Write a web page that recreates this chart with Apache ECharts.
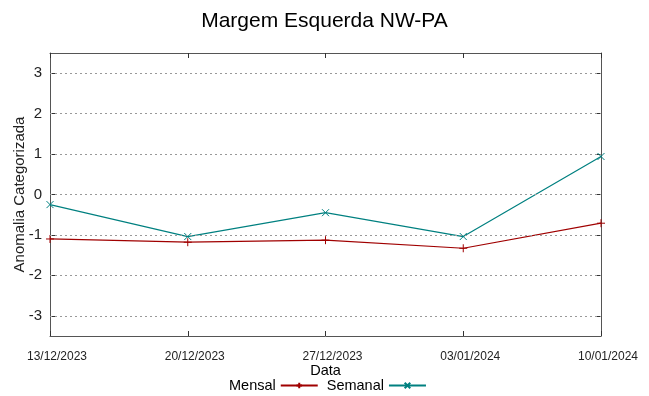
<!DOCTYPE html>
<html>
<head>
<meta charset="utf-8">
<script src="https://cdn.jsdelivr.net/npm/echarts@6/dist/echarts.min.js"></script>
<style>html,body{margin:0;padding:0;background:#fff}#c{width:649px;height:396px}</style>
</head>
<body>
<div id="c"></div>
<script>
const categories = ['13/12/2023', '20/12/2023', '27/12/2023', '03/01/2024', '10/01/2024'];
const mensal = [-1.10, -1.18, -1.13, -1.33, -0.71];
const semanal = [-0.25, -1.04, -0.45, -1.04, 0.94];
const yTicks = [-3, -2, -1, 0, 1, 2, 3];
const yMin = -3.5, yMax = 3.5;

const chart = echarts.init(document.getElementById('c'), null, {renderer: 'canvas'});
const frame = {show: true, onZero: false, lineStyle: {color: '#555', width: 1}};
const regular = '"Liberation Sans", Arial, sans-serif';

chart.setOption({
  animation: false,
  backgroundColor: '#fff',
  title: {
    text: 'Margem Esquerda NW-PA', left: 'center', top: 6,
    textStyle: {fontFamily: regular, fontSize: 21, fontWeight: 'normal', color: '#000'}
  },
  legend: {
    data: ['Mensal', 'Semanal'], align: 'right', left: 224, top: 373,
    itemWidth: 37, itemHeight: 7, itemGap: 8,
    textStyle: {fontFamily: regular, fontSize: 14.5, color: '#000'}
  },
  grid: {left: 50, right: 48, top: 53, bottom: 60, containLabel: false, outerBoundsMode: 'none'},
  xAxis: [{
    type: 'category', data: categories, boundaryGap: false, position: 'bottom',
    name: 'Data', nameLocation: 'middle', nameGap: 27, nameMoveOverlap: false,
    nameTextStyle: {fontFamily: regular, fontSize: 14.5, color: '#000'},
    axisLine: frame,
    axisTick: {show: true, inside: true, length: 5, interval: 0, lineStyle: {color: '#333'}},
    axisLabel: {interval: 0, margin: 15, fontFamily: regular, fontSize: 12, color: '#222', padding: [0, 0, 0, 14]},
    splitLine: {show: false}
  }, {
    type: 'category', data: categories, boundaryGap: false, position: 'top',
    axisLine: frame,
    axisTick: {show: true, inside: true, length: 5, interval: 0, lineStyle: {color: '#333'}},
    axisLabel: {show: false}, splitLine: {show: false}
  }],
  yAxis: [{
    type: 'value', min: yMin, max: yMax, position: 'left',
    name: 'Anomalia Categorizada', nameLocation: 'middle', nameGap: 23, nameMoveOverlap: false,
    nameTextStyle: {fontFamily: regular, fontSize: 15, color: '#222'},
    axisLine: frame,
    axisTick: {show: true, inside: true, length: 5, customValues: yTicks, lineStyle: {color: '#333'}},
    axisLabel: {customValues: yTicks, margin: 8, fontFamily: regular, fontSize: 15, color: '#222'},
    splitLine: {show: false}
  }, {
    type: 'value', min: yMin, max: yMax, position: 'right',
    axisLine: frame,
    axisTick: {show: true, inside: true, length: 5, customValues: yTicks, lineStyle: {color: '#333'}},
    axisLabel: {show: false}, splitLine: {show: false}
  }],
  series: [{
    name: 'grid', type: 'line', data: [], z: 1, silent: true,
    markLine: {
      silent: true, symbol: 'none', label: {show: false},
      lineStyle: {color: '#999', type: [2, 3], width: 1},
      data: yTicks.map(v => ({yAxis: v}))
    }
  }, {
    name: 'Mensal', type: 'line', data: mensal, z: 3,
    symbol: 'path://M0,5L10,5M5,0L5,10', symbolSize: 8,
    lineStyle: {color: '#a00000', width: 1.2},
    itemStyle: {color: '#a00000', borderColor: '#a00000', borderWidth: 1}
  }, {
    name: 'Semanal', type: 'line', data: semanal, z: 4,
    symbol: 'path://M0,0L10,10M10,0L0,10', symbolSize: 7,
    lineStyle: {color: '#008080', width: 1.2},
    itemStyle: {color: '#008080', borderColor: '#008080', borderWidth: 1}
  }]
});
</script>
</body>
</html>
